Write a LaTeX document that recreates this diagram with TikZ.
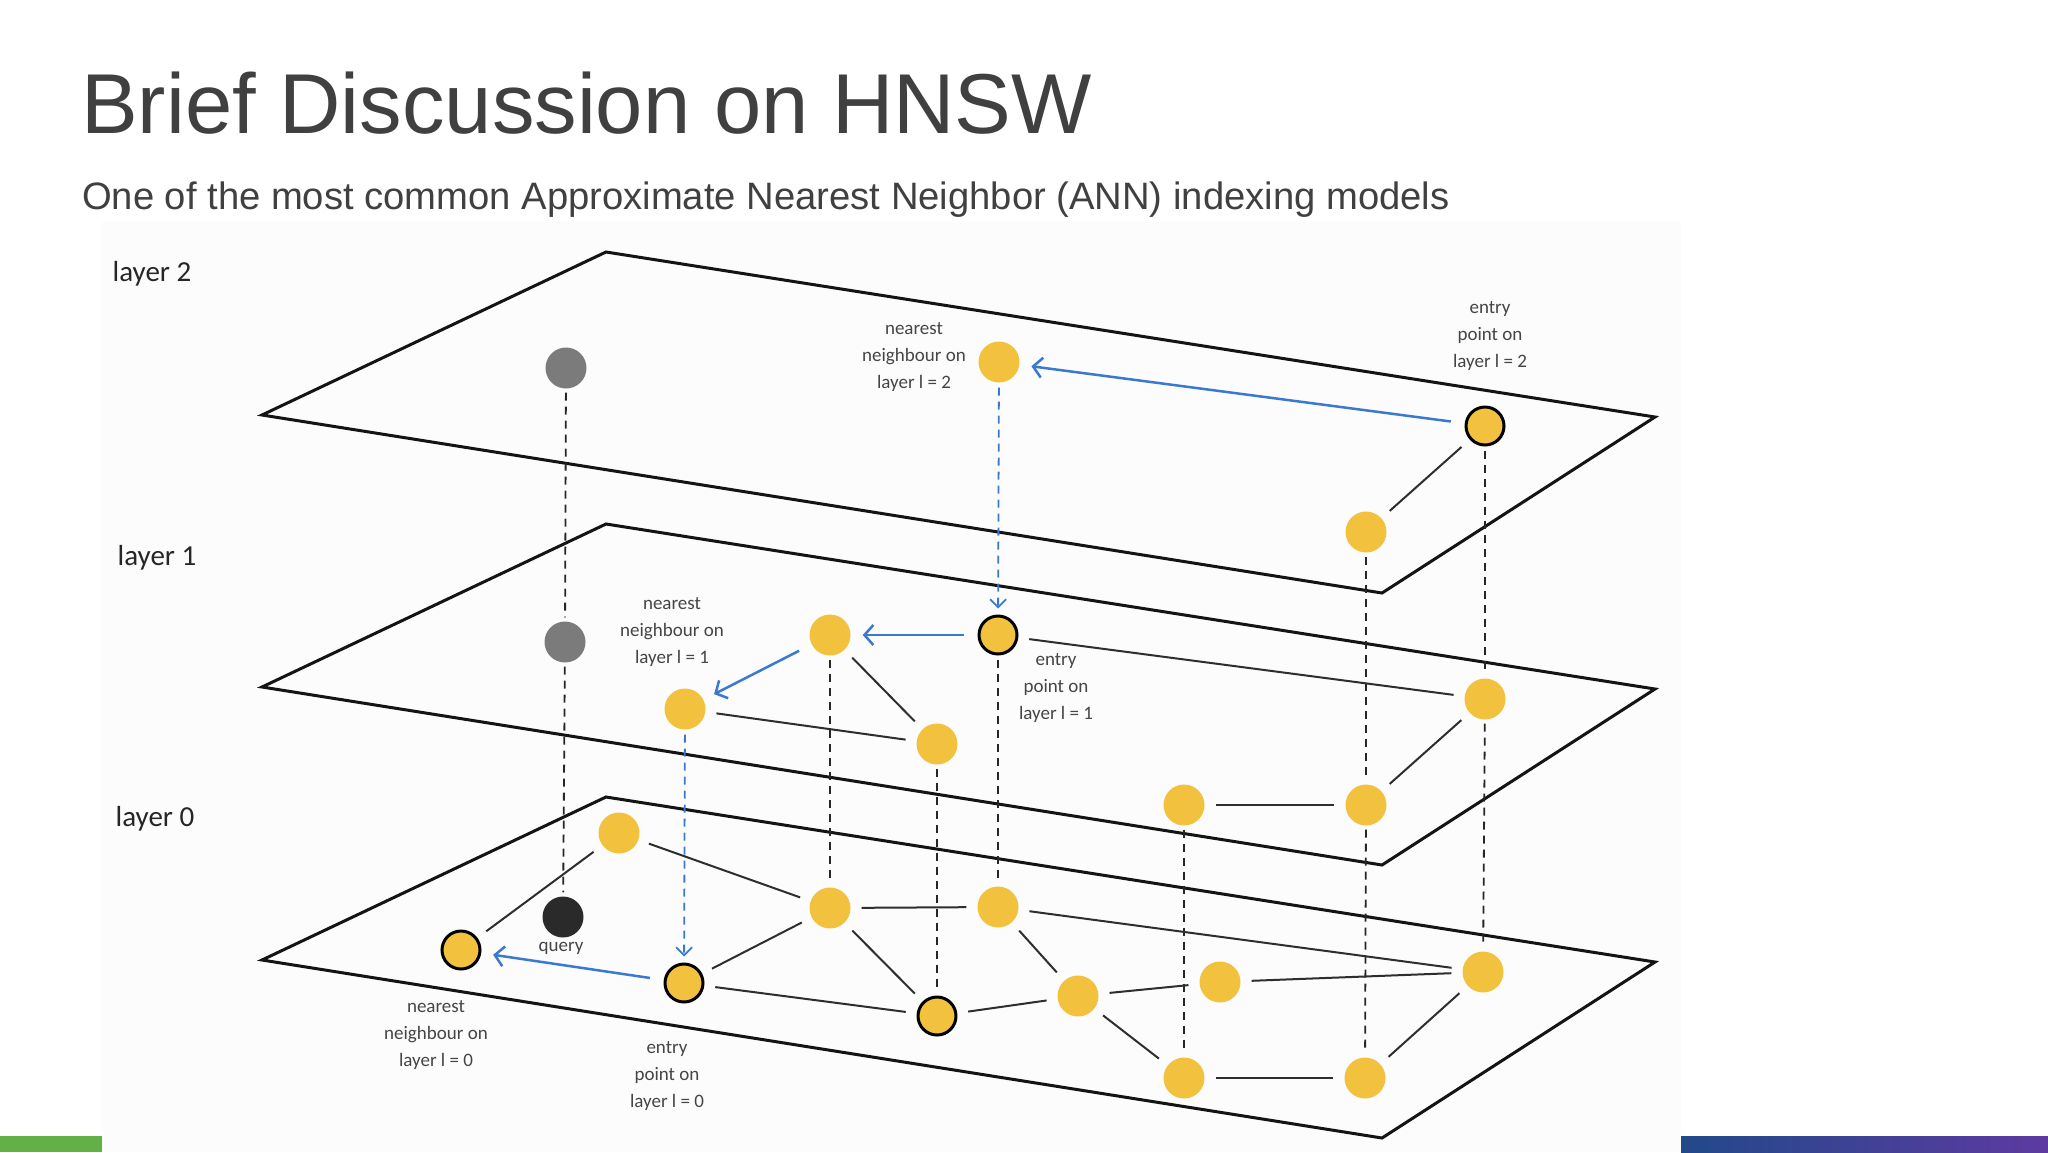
\documentclass[tikz,border=0pt]{standalone}
\usepackage{fontspec}
\setmainfont{Liberation Sans}
\newfontfamily\hand{Carlito}
\usetikzlibrary{arrows.meta}
\definecolor{ttl}{HTML}{404040}
\definecolor{imgbg}{HTML}{FCFCFC}
\definecolor{nodeY}{HTML}{F2C23E}
\definecolor{nodeG}{HTML}{7B7B7B}
\definecolor{nodeQ}{HTML}{2A2A2A}
\definecolor{blueC}{HTML}{3B78D0}
\definecolor{lnkC}{HTML}{2E2E2E}
\definecolor{txtC}{HTML}{454545}
\definecolor{barGreen}{HTML}{62B046}
\definecolor{barBlue}{HTML}{22498A}
\definecolor{barPurple}{HTML}{5E3AA0}
\begin{document}
\begin{tikzpicture}[x=1pt,y=-1pt,
  ynode/.style={circle, fill=nodeY, minimum size=41pt, inner sep=0pt},
  ynodeo/.style={circle, fill=nodeY, draw=black, line width=3pt, minimum size=38pt, inner sep=0pt},
  gnode/.style={circle, fill=nodeG, minimum size=41pt, inner sep=0pt},
  qnode/.style={circle, fill=nodeQ, minimum size=41pt, inner sep=0pt},
  plane/.style={draw=black!92, line width=3pt, line join=miter},
  lnk/.style={draw=lnkC, line width=2pt, shorten <=11pt, shorten >=11pt},
  vdsh/.style={draw=black!85, line width=1.8pt, dash pattern=on 8pt off 6pt, shorten <=4pt, shorten >=4pt},
  bdsh/.style={draw=blueC, line width=1.8pt, dash pattern=on 8pt off 6pt, shorten <=5pt, shorten >=6pt, -{Straight Barb[length=8pt,width=16pt,line width=1.8pt]}},
  barr/.style={draw=blueC, line width=2.5pt, shorten <=14pt, shorten >=12pt, -{Straight Barb[length=9pt,width=20pt,line width=2.5pt]}},
  lbl/.style={font=\hand\fontsize{19}{27}\selectfont, text=txtC, align=center, inner sep=0pt},
  lay/.style={font=\hand\fontsize{29}{32}\selectfont, text=black!85, inner sep=0pt}
]
\useasboundingbox (0,0) rectangle (2048,1152);
\fill[white] (0,0) rectangle (2048,1152);
\fill[imgbg] (102,222) rectangle (1681,1152);

% title
\node[anchor=base west, inner sep=0pt, text=ttl, font=\fontsize{85}{90}\selectfont] (title) at (81,133) {Brief Discussion on HNSW};
\node[anchor=base west, inner sep=0pt, text=ttl, font=\fontsize{38.2}{42}\selectfont] (sub) at (82,209) {One of the most common Approximate Nearest Neighbor (ANN) indexing models};

% bottom bars
\fill[barGreen] (0,1136) rectangle (102,1152);
\shade[left color=barBlue, right color=barPurple] (1681,1136) rectangle (2048,1152);

% layer labels
\node[lay] (l2) at (152,274) {layer 2};
\node[lay] (l1) at (157,558) {layer 1};
\node[lay] (l0) at (155,819) {layer 0};

% planes
\draw[plane] (262,415) -- (606,252) -- (1655,417) -- (1382,593) -- cycle;
\draw[plane] (262,687) -- (606,524) -- (1655,689) -- (1382,865) -- cycle;
\draw[plane] (262,960) -- (606,797) -- (1655,962) -- (1382,1138) -- cycle;

% layer 2 nodes
\node[gnode] (g2) at (566,368) {};
\node[ynode] (nn2) at (999,362) {};
\node[ynodeo] (ep2) at (1485,426) {};
\node[ynode] (p2) at (1366,532) {};

% layer 1 nodes
\node[gnode] (g1) at (565,642) {};
\node[ynode] (a1) at (830,635) {};
\node[ynodeo] (ep1) at (998,635) {};
\node[ynode] (nn1) at (685,709) {};
\node[ynode] (b1) at (937,744) {};
\node[ynode] (c1) at (1485,699) {};
\node[ynode] (d1) at (1184,805) {};
\node[ynode] (e1) at (1366,805) {};

% layer 0 nodes
\node[qnode] (q0) at (563,917) {};
\node[ynodeo] (nn0) at (461,950) {};
\node[ynode] (f0) at (619,833) {};
\node[ynodeo] (ep0) at (684,983) {};
\node[ynode] (g0) at (830,908) {};
\node[ynode] (h0) at (998,907) {};
\node[ynodeo] (i0) at (937,1016) {};
\node[ynode] (j0) at (1078,996) {};
\node[ynode] (k0) at (1220,982) {};
\node[ynode] (l0n) at (1483,972) {};
\node[ynode] (m0) at (1184,1078) {};
\node[ynode] (n0) at (1365,1078) {};

% vertical dashed links
\draw[vdsh] (g2) -- (g1);
\draw[vdsh] (g1) -- (q0);
\draw[vdsh] (ep2) -- (c1);
\draw[vdsh] (c1) -- (l0n);
\draw[vdsh] (p2) -- (e1);
\draw[vdsh] (e1) -- (n0);
\draw[vdsh] (a1) -- (g0);
\draw[vdsh] (b1) -- (i0);
\draw[vdsh] (ep1) -- (h0);
\draw[vdsh] (d1) -- (m0);
\draw[bdsh] (nn2) -- (ep1);
\draw[bdsh] (nn1) -- (ep0);

% layer 2 links
\draw[lnk] (ep2) -- (p2);
\draw[barr] (ep2) -- (nn2);

% layer 1 links
\draw[barr] (ep1) -- (a1);
\draw[barr] (a1) -- (nn1);
\draw[lnk] (a1) -- (b1);
\draw[lnk] (nn1) -- (b1);
\draw[lnk] (ep1) -- (c1);
\draw[lnk] (c1) -- (e1);
\draw[lnk] (d1) -- (e1);

% layer 0 links
\draw[lnk] (nn0) -- (f0);
\draw[lnk] (f0) -- (g0);
\draw[lnk] (ep0) -- (g0);
\draw[lnk] (ep0) -- (i0);
\draw[barr] (ep0) -- (nn0);
\draw[lnk] (g0) -- (h0);
\draw[lnk] (g0) -- (i0);
\draw[lnk] (h0) -- (j0);
\draw[lnk] (h0) -- (l0n);
\draw[lnk] (i0) -- (j0);
\draw[lnk] (j0) -- (k0);
\draw[lnk] (k0) -- (l0n);
\draw[lnk] (j0) -- (m0);
\draw[lnk] (m0) -- (n0);
\draw[lnk] (n0) -- (l0n);

% labels
\node[lbl] (t_nn2) at (914,357) {nearest\\neighbour on\\layer l = 2};
\node[lbl] (t_ep2) at (1490,336) {entry\\point on\\layer l = 2};
\node[lbl] (t_nn1) at (672,632) {nearest\\neighbour on\\layer l = 1};
\node[lbl] (t_ep1) at (1056,688) {entry\\point on\\layer l = 1};
\node[lbl] (t_nn0) at (436,1035) {nearest\\neighbour on\\layer l = 0};
\node[lbl] (t_ep0) at (667,1076) {entry\\point on\\layer l = 0};
\node[lbl] (t_q) at (561,948) {query};
\end{tikzpicture}
\end{document}
